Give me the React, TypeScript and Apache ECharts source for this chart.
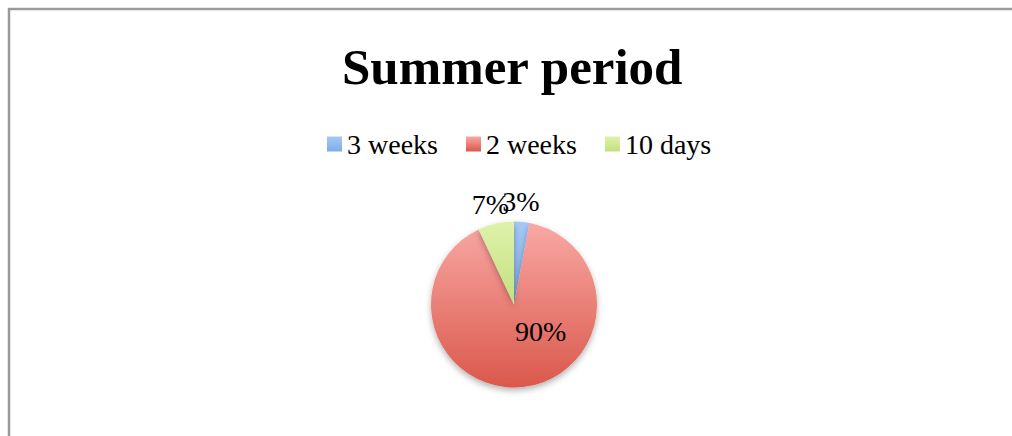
import React, { useEffect, useRef } from "react";
import * as echarts from "echarts";

const titleText = "Summer period";
const categories = ["3 weeks", "2 weeks", "10 days"];
const values = [3, 90, 7];
const topColors = ["#a6c9f7", "#f9a8a4", "#def2ab"];
const bottomColors = ["#7fabe6", "#da584b", "#c3e07e"];
const labelShifts = [
  [-3, 1],
  [21, -17],
  [-1, 1],
];

export default function App() {
  const ref = useRef<HTMLDivElement>(null);
  useEffect(() => {
    if (!ref.current) return;
    const chart = echarts.init(ref.current, null, { renderer: "svg" });
    const font = "'Liberation Serif', 'Times New Roman', serif";
    const data = categories.map((name, i) => ({
      name,
      value: values[i],
      itemStyle: {
        color: new echarts.graphic.LinearGradient(0, 0, 0, 1, [
          { offset: 0, color: topColors[i] },
          { offset: 1, color: bottomColors[i] },
        ]),
      },
      label: { position: i === 1 ? "inside" : "outside" },
    }));
    chart.setOption({
      animation: false,
      backgroundColor: "#ffffff",
      graphic: [
        {
          type: "rect",
          shape: { x: 9, y: 9, width: 1100, height: 600 },
          style: { fill: "none", stroke: "#9a9a9a", lineWidth: 2.5 },
          silent: true,
        },
      ],
      title: {
        text: titleText,
        left: 337,
        top: 36,
        textStyle: {
          fontFamily: font,
          fontSize: 51,
          fontWeight: "bold",
          color: "#000000",
          lineHeight: 51,
        },
      },
      legend: {
        data: categories,
        left: 322,
        top: 125,
        icon: "rect",
        itemWidth: 15,
        itemHeight: 15,
        itemGap: 28,
        textStyle: {
          fontFamily: font,
          fontSize: 28,
          color: "#000000",
          lineHeight: 28,
        },
      },
      series: [
        {
          type: "pie",
          center: [514, 304.5],
          radius: 83,
          startAngle: 90,
          clockwise: true,
          avoidLabelOverlap: false,
          data,
          itemStyle: {
            shadowBlur: 6,
            shadowOffsetY: 3,
            shadowColor: "rgba(0,0,0,0.3)",
          },
          emphasis: { disabled: true },
          label: {
            show: true,
            fontFamily: font,
            fontSize: 28,
            color: "#000000",
            distanceToLabelLine: 0,
            formatter: (p: any) => Math.round(p.percent) + "%",
          },
          labelLine: { show: false, length: 21, length2: 0 },
          labelLayout: (p: any) => {
            const s = labelShifts[p.dataIndex];
            return { align: "center", dx: s[0], dy: s[1], hideOverlap: false };
          },
        },
      ],
    });
    return () => chart.dispose();
  }, []);
  return (
    <div
      ref={ref}
      style={{ position: "absolute", left: 0, top: 0, width: 1012, height: 436 }}
    />
  );
}
